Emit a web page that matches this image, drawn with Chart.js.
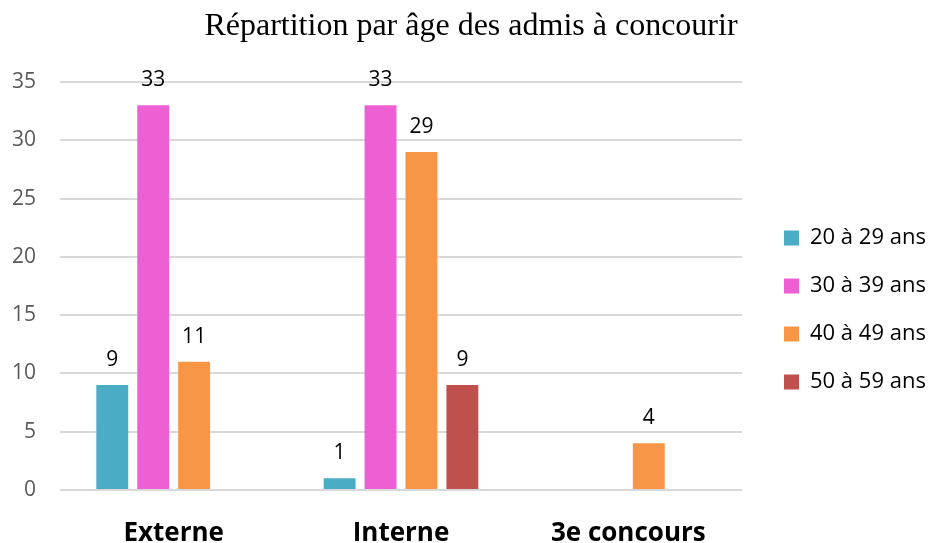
<!DOCTYPE html>
<html>
<head>
<meta charset="utf-8">
<script src="https://cdn.jsdelivr.net/npm/chart.js@4"></script>
<style>
  html, body { margin: 0; padding: 0; background: #fff; }
  #wrap { width: 930px; height: 543px; position: relative; }
</style>
</head>
<body>
<div id="wrap"><canvas id="ageChart"></canvas></div>
<script>
// Répartition par âge des admis
var categories = ['Externe', 'Interne', '3e concours'];
var seriesNames = ['20 à 29 ans', '30 à 39 ans', '40 à 49 ans', '50 à 59 ans'];
var age20 = [9, 1, null];
var age30 = [33, 33, null];
var age40 = [11, 29, 4];
var age50 = [null, 9, null];
var colors = ['#4BACC6', '#EF5FD4', '#F79646', '#C0504D'];
var yTicks = { min: 0, max: 35, step: 5 };

var sans = "'Open Sans', 'Liberation Sans', sans-serif";

// value labels above each bar
var valueLabels = {
    id: 'valueLabels',
    afterDatasetsDraw: function (chart) {
        var ctx = chart.ctx;
        ctx.save();
        ctx.font = '21px ' + sans;
        ctx.fillStyle = '#000';
        ctx.textAlign = 'center';
        ctx.textBaseline = 'middle';
        chart.data.datasets.forEach(function (ds, i) {
            var meta = chart.getDatasetMeta(i);
            meta.data.forEach(function (bar, j) {
                var v = ds.data[j];
                if (v === null || v === undefined) return;
                ctx.fillText(String(v), bar.x, bar.y - 25);
            });
        });
        ctx.restore();
    }
};

var seriesData = [age20, age30, age40, age50];
var datasets = seriesNames.map(function (name, i) {
    return {
        label: name,
        data: seriesData[i],
        backgroundColor: colors[i],
        borderWidth: 0,
        categoryPercentage: 0.72,
        barPercentage: 0.78
    };
});

var ctx = document.getElementById('ageChart').getContext('2d');
var chart = new Chart(ctx, {
    type: 'bar',
    data: { labels: categories, datasets: datasets },
    plugins: [valueLabels],
    options: {
        responsive: true,
        maintainAspectRatio: false,
        animation: false,
        layout: { padding: { left: 12, right: 0, top: 0, bottom: 0 } },
        plugins: {
            title: {
                display: true,
                text: 'Répartition par âge des admis à concourir',
                color: '#000',
                font: { family: "'Liberation Serif', 'Times New Roman', serif", size: 32, weight: 'normal' },
                padding: { top: 7, bottom: 36.6 }
            },
            legend: {
                position: 'right',
                fullSize: false,
                maxWidth: 172,
                title: { display: true, text: '', font: { size: 12 }, padding: { top: 33.6, bottom: 0 } },
                labels: {
                    boxWidth: 15,
                    boxHeight: 15,
                    padding: 26,
                    color: '#000',
                    font: { family: sans, size: 22 }
                }
            },
            tooltip: { enabled: false }
        },
        scales: {
            x: {
                grid: { display: false },
                border: { display: false },
                ticks: {
                    color: '#000',
                    padding: 23,
                    font: { family: sans, size: 26, weight: 'bold', lineHeight: 1 }
                },
                afterFit: function (s) { s.height = 53; }
            },
            y: {
                min: yTicks.min,
                max: yTicks.max,
                border: { display: false },
                grid: { color: '#D9D9D9', lineWidth: 2, drawTicks: false },
                ticks: {
                    stepSize: yTicks.step,
                    color: '#595959',
                    padding: 24,
                    font: { family: sans, size: 21 }
                },
                afterFit: function (s) { s.width = 48; }
            },
            y2: {
                position: 'right',
                display: true,
                grid: { display: false, drawTicks: false },
                border: { display: false },
                ticks: { display: false },
                afterFit: function (s) { s.width = 16; }
            }
        }
    }
});
</script>
</body>
</html>
